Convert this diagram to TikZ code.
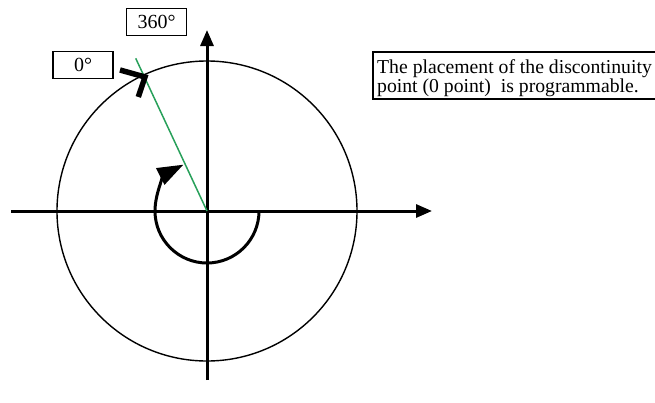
\documentclass[tikz,border=0pt]{standalone}
\usepackage{fontspec}
\setmainfont{Liberation Serif}
\usetikzlibrary{arrows.meta}
\begin{document}
\begin{tikzpicture}[x=1pt,y=-1pt,
  axis/.style={line width=3pt,-{Triangle[length=16pt,width=13pt]}},
  ring/.style={line width=1.4pt},
  boxline/.style={line width=1.1pt},
  labelbox/.style={draw,line width=1.1pt,minimum width=60pt,minimum height=27pt,inner sep=0pt,font=\fontsize{20}{22}\selectfont},
  txt/.style={anchor=base west,inner sep=0pt,font=\fontsize{19.7}{22}\selectfont},
  greenline/.style={line width=1.5pt,draw={rgb,255:red,40;green,160;blue,90}},
  turn/.style={line width=3pt,-{Triangle[length=26pt,width=18pt]}},
  chev/.style={line width=5.5pt,miter limit=10}]
\useasboundingbox (0,0) rectangle (655,402);
\clip (0,0) rectangle (655,402);
\coordinate (O) at (207,211);
\coordinate (L) at (11,211);
\coordinate (R) at (432,211);
\coordinate (B) at (207,380);
\coordinate (T) at (207,30);
\draw[ring] (O) circle[radius=150];
\draw[axis] (L) -- (R);
\draw[axis] (B) -- (T);
\coordinate (G) at (135.7,58.3);
\draw[greenline] (O) -- (G);
\coordinate (A0) at (259,211);
\draw[turn] (A0) arc[start angle=0,end angle=243,radius=52];
\coordinate (C1) at (120,70);
\coordinate (C2) at (145,77);
\coordinate (C3) at (138.3,97);
\draw[chev] (C1) -- (C2) -- (C3);
\node[labelbox] (b360) at (156.5,22) {360°};
\node[labelbox] (b0) at (83,65) {0°};
\coordinate (TB1) at (373,52);
\coordinate (TB2) at (680,99);
\draw[boxline] (TB1) rectangle (TB2);
\node[txt] (t1) at (377,73) {The placement of the discontinuity};
\node[txt] (t2) at (377,92) {point (0 point)\ \ is programmable.};
\end{tikzpicture}
\end{document}
